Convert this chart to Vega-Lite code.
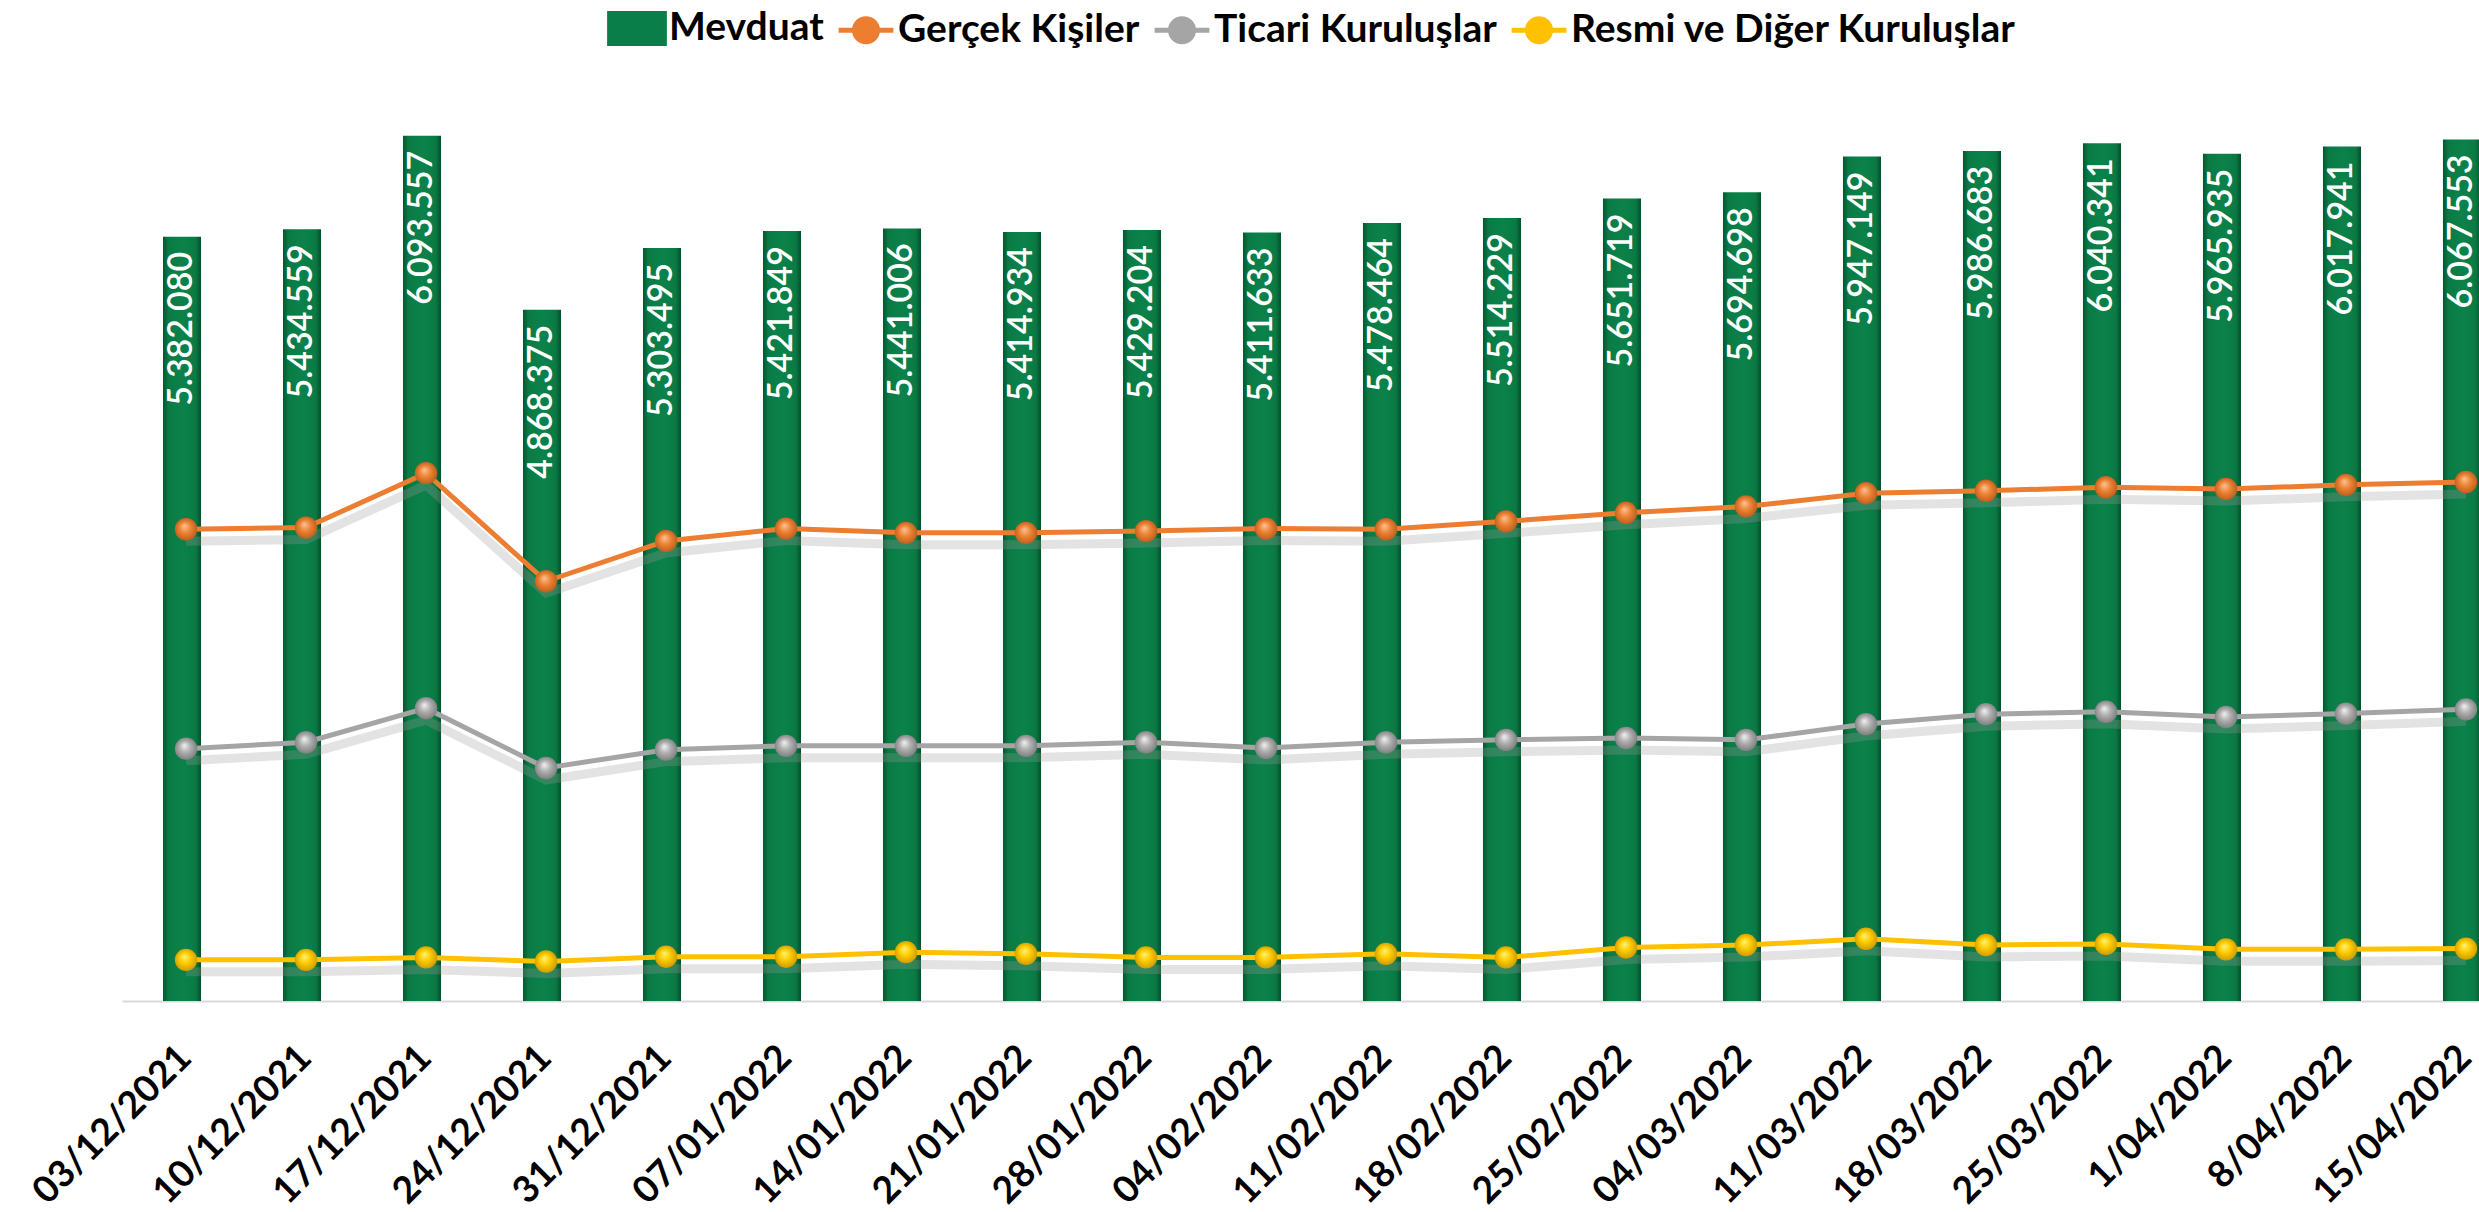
{
  "$schema": "https://vega.github.io/schema/vega-lite/v6.json",
  "width": 2357,
  "height": 923,
  "autosize": {"type": "none"},
  "padding": {"left": 122, "top": 78, "right": 0, "bottom": 211},
  "background": "white",
  "config": {
    "view": {"stroke": null},
    "locale": {"number": {"decimal": ",", "thousands": ".", "grouping": [3], "currency": ["", " TL"]}},
    "font": "Lato"
  },
  "datasets": {
    "mevduat": [
      {"tarih": "03/12/2021", "mevduat": 5382080},
      {"tarih": "10/12/2021", "mevduat": 5434559},
      {"tarih": "17/12/2021", "mevduat": 6093557},
      {"tarih": "24/12/2021", "mevduat": 4868375},
      {"tarih": "31/12/2021", "mevduat": 5303495},
      {"tarih": "07/01/2022", "mevduat": 5421849},
      {"tarih": "14/01/2022", "mevduat": 5441006},
      {"tarih": "21/01/2022", "mevduat": 5414934},
      {"tarih": "28/01/2022", "mevduat": 5429204},
      {"tarih": "04/02/2022", "mevduat": 5411633},
      {"tarih": "11/02/2022", "mevduat": 5478464},
      {"tarih": "18/02/2022", "mevduat": 5514229},
      {"tarih": "25/02/2022", "mevduat": 5651719},
      {"tarih": "04/03/2022", "mevduat": 5694698},
      {"tarih": "11/03/2022", "mevduat": 5947149},
      {"tarih": "18/03/2022", "mevduat": 5986683},
      {"tarih": "25/03/2022", "mevduat": 6040341},
      {"tarih": "1/04/2022", "mevduat": 5965935},
      {"tarih": "8/04/2022", "mevduat": 6017941},
      {"tarih": "15/04/2022", "mevduat": 6067553}
    ],
    "kalemler": [
      {"tarih": "03/12/2021", "seri": "Gerçek Kişiler", "deger": 3322000},
      {"tarih": "10/12/2021", "seri": "Gerçek Kişiler", "deger": 3334000},
      {"tarih": "17/12/2021", "seri": "Gerçek Kişiler", "deger": 3717000},
      {"tarih": "24/12/2021", "seri": "Gerçek Kişiler", "deger": 2956000},
      {"tarih": "31/12/2021", "seri": "Gerçek Kişiler", "deger": 3240000},
      {"tarih": "07/01/2022", "seri": "Gerçek Kişiler", "deger": 3327000},
      {"tarih": "14/01/2022", "seri": "Gerçek Kişiler", "deger": 3297000},
      {"tarih": "21/01/2022", "seri": "Gerçek Kişiler", "deger": 3297000},
      {"tarih": "28/01/2022", "seri": "Gerçek Kişiler", "deger": 3309000},
      {"tarih": "04/02/2022", "seri": "Gerçek Kişiler", "deger": 3327000},
      {"tarih": "11/02/2022", "seri": "Gerçek Kişiler", "deger": 3322000},
      {"tarih": "18/02/2022", "seri": "Gerçek Kişiler", "deger": 3378000},
      {"tarih": "25/02/2022", "seri": "Gerçek Kişiler", "deger": 3438000},
      {"tarih": "04/03/2022", "seri": "Gerçek Kişiler", "deger": 3483000},
      {"tarih": "11/03/2022", "seri": "Gerçek Kişiler", "deger": 3576000},
      {"tarih": "18/03/2022", "seri": "Gerçek Kişiler", "deger": 3593000},
      {"tarih": "25/03/2022", "seri": "Gerçek Kişiler", "deger": 3618000},
      {"tarih": "1/04/2022", "seri": "Gerçek Kişiler", "deger": 3606000},
      {"tarih": "8/04/2022", "seri": "Gerçek Kişiler", "deger": 3635000},
      {"tarih": "15/04/2022", "seri": "Gerçek Kişiler", "deger": 3655000},
      {"tarih": "03/12/2021", "seri": "Ticari Kuruluşlar", "deger": 1777000},
      {"tarih": "10/12/2021", "seri": "Ticari Kuruluşlar", "deger": 1822000},
      {"tarih": "17/12/2021", "seri": "Ticari Kuruluşlar", "deger": 2062000},
      {"tarih": "24/12/2021", "seri": "Ticari Kuruluşlar", "deger": 1641000},
      {"tarih": "31/12/2021", "seri": "Ticari Kuruluşlar", "deger": 1770000},
      {"tarih": "07/01/2022", "seri": "Ticari Kuruluşlar", "deger": 1797000},
      {"tarih": "14/01/2022", "seri": "Ticari Kuruluşlar", "deger": 1797000},
      {"tarih": "21/01/2022", "seri": "Ticari Kuruluşlar", "deger": 1797000},
      {"tarih": "28/01/2022", "seri": "Ticari Kuruluşlar", "deger": 1822000},
      {"tarih": "04/02/2022", "seri": "Ticari Kuruluşlar", "deger": 1782000},
      {"tarih": "11/02/2022", "seri": "Ticari Kuruluşlar", "deger": 1822000},
      {"tarih": "18/02/2022", "seri": "Ticari Kuruluşlar", "deger": 1839000},
      {"tarih": "25/02/2022", "seri": "Ticari Kuruluşlar", "deger": 1852000},
      {"tarih": "04/03/2022", "seri": "Ticari Kuruluşlar", "deger": 1839000},
      {"tarih": "11/03/2022", "seri": "Ticari Kuruluşlar", "deger": 1950000},
      {"tarih": "18/03/2022", "seri": "Ticari Kuruluşlar", "deger": 2020000},
      {"tarih": "25/03/2022", "seri": "Ticari Kuruluşlar", "deger": 2037000},
      {"tarih": "1/04/2022", "seri": "Ticari Kuruluşlar", "deger": 2000000},
      {"tarih": "8/04/2022", "seri": "Ticari Kuruluşlar", "deger": 2024000},
      {"tarih": "15/04/2022", "seri": "Ticari Kuruluşlar", "deger": 2054000},
      {"tarih": "03/12/2021", "seri": "Resmi ve Diğer Kuruluşlar", "deger": 290000},
      {"tarih": "10/12/2021", "seri": "Resmi ve Diğer Kuruluşlar", "deger": 290000},
      {"tarih": "17/12/2021", "seri": "Resmi ve Diğer Kuruluşlar", "deger": 307000},
      {"tarih": "24/12/2021", "seri": "Resmi ve Diğer Kuruluşlar", "deger": 278000},
      {"tarih": "31/12/2021", "seri": "Resmi ve Diğer Kuruluşlar", "deger": 312000},
      {"tarih": "07/01/2022", "seri": "Resmi ve Diğer Kuruluşlar", "deger": 312000},
      {"tarih": "14/01/2022", "seri": "Resmi ve Diğer Kuruluşlar", "deger": 344000},
      {"tarih": "21/01/2022", "seri": "Resmi ve Diğer Kuruluşlar", "deger": 332000},
      {"tarih": "28/01/2022", "seri": "Resmi ve Diğer Kuruluşlar", "deger": 307000},
      {"tarih": "04/02/2022", "seri": "Resmi ve Diğer Kuruluşlar", "deger": 307000},
      {"tarih": "11/02/2022", "seri": "Resmi ve Diğer Kuruluşlar", "deger": 332000},
      {"tarih": "18/02/2022", "seri": "Resmi ve Diğer Kuruluşlar", "deger": 307000},
      {"tarih": "25/02/2022", "seri": "Resmi ve Diğer Kuruluşlar", "deger": 377000},
      {"tarih": "04/03/2022", "seri": "Resmi ve Diğer Kuruluşlar", "deger": 394000},
      {"tarih": "11/03/2022", "seri": "Resmi ve Diğer Kuruluşlar", "deger": 438000},
      {"tarih": "18/03/2022", "seri": "Resmi ve Diğer Kuruluşlar", "deger": 394000},
      {"tarih": "25/03/2022", "seri": "Resmi ve Diğer Kuruluşlar", "deger": 402000},
      {"tarih": "1/04/2022", "seri": "Resmi ve Diğer Kuruluşlar", "deger": 364000},
      {"tarih": "8/04/2022", "seri": "Resmi ve Diğer Kuruluşlar", "deger": 364000},
      {"tarih": "15/04/2022", "seri": "Resmi ve Diğer Kuruluşlar", "deger": 369000}
    ]
  },
  "encoding": {
    "x": {
      "field": "tarih",
      "type": "nominal",
      "sort": null,
      "scale": {"type": "band", "range": [0, 2400], "paddingInner": 0.683, "paddingOuter": 0.3417},
      "axis": {
        "title": null,
        "labelAngle": -45,
        "labelFont": "Lato",
        "labelFontWeight": "bold",
        "labelFontSize": 37,
        "labelColor": "#000000",
        "labelPadding": 38,
        "labelOffset": -9,
        "labelLimit": 0,
        "ticks": false,
        "domainColor": "#D9D9D9",
        "domainWidth": 2,
        "labelOverlap": false
      }
    }
  },
  "layer": [
    {
      "data": {"name": "mevduat"},
      "mark": {
        "type": "bar",
        "fill": {
          "gradient": "linear", "x1": 0, "x2": 1, "y1": 0, "y2": 0,
          "stops": [
            {"offset": 0, "color": "#06552F"},
            {"offset": 0.14, "color": "#0A7A45"},
            {"offset": 0.5, "color": "#0B824A"},
            {"offset": 0.86, "color": "#0A7A45"},
            {"offset": 1, "color": "#054F2B"}
          ]
        }
      },
      "encoding": {
        "y": {"field": "mevduat", "type": "quantitative", "scale": {"domain": [0, 6500000], "nice": false, "zero": true}, "axis": null}
      }
    },
    {
      "data": {"name": "mevduat"},
      "mark": {"type": "text", "angle": -90, "align": "right", "baseline": "middle", "dx": -15, "color": "#FFFFFF", "font": "Lato", "fontSize": 34, "fontWeight": 600},
      "encoding": {
        "y": {"field": "mevduat", "type": "quantitative"},
        "text": {"field": "mevduat", "type": "quantitative", "format": ",d"}
      }
    },
    {
      "data": {"name": "kalemler"},
      "mark": {"type": "line", "stroke": "#9A9A9A", "strokeWidth": 9, "opacity": 0.28, "yOffset": 12, "xOffset": 4},
      "encoding": {
        "y": {"field": "deger", "type": "quantitative"},
        "detail": {"field": "seri"}
      }
    },
    {
      "data": {"name": "kalemler"},
      "mark": {"type": "line", "strokeWidth": 5, "xOffset": 4},
      "encoding": {
        "y": {"field": "deger", "type": "quantitative"},
        "color": {
          "field": "seri",
          "type": "nominal",
          "scale": {
            "domain": ["Mevduat", "Gerçek Kişiler", "Ticari Kuruluşlar", "Resmi ve Diğer Kuruluşlar"],
            "range": ["#0A7E48", "#ED7D31", "#A5A5A5", "#FFC000"]
          },
          "legend": {
            "title": null,
            "orient": "none",
            "legendX": 485,
            "legendY": -80,
            "direction": "horizontal",
            "labelFont": "Lato",
            "labelFontWeight": "bold",
            "labelFontSize": 39,
            "labelColor": "#000000",
            "labelLimit": 0,
            "labelOffset": 2,
            "columnPadding": 4,
            "symbolSize": 3000,
            "symbolStrokeWidth": 5,
            "encode": {
              "symbols": {
                "update": {
                  "shape": {"signal": "datum.value === 'Mevduat' ? 'M-1,-0.55H1V0.55H-1Z' : 'M-1,0H1M0.42,0A0.42,0.42,0,1,1,-0.42,0A0.42,0.42,0,1,1,0.42,0'"},
                  "fill": {"scale": "color", "field": "value"},
                  "stroke": {"scale": "color", "field": "value"},
                  "strokeWidth": {"value": 5},
                  "opacity": {"value": 1}
                }
              }
            }
          }
        }
      }
    },
    {
      "data": {"name": "kalemler"},
      "transform": [{"filter": "datum.seri === 'Gerçek Kişiler'"}],
      "mark": {
        "type": "point", "filled": true, "size": 500, "opacity": 1, "xOffset": 4,
        "fill": {"gradient": "radial", "x1": 0.42, "y1": 0.35, "r1": 0, "x2": 0.5, "y2": 0.5, "r2": 0.55,
          "stops": [{"offset": 0, "color": "#FBC49A"}, {"offset": 0.45, "color": "#EE8436"}, {"offset": 1, "color": "#B85A1A"}]}
      },
      "encoding": {"y": {"field": "deger", "type": "quantitative"}}
    },
    {
      "data": {"name": "kalemler"},
      "transform": [{"filter": "datum.seri === 'Ticari Kuruluşlar'"}],
      "mark": {
        "type": "point", "filled": true, "size": 500, "opacity": 1, "xOffset": 4,
        "fill": {"gradient": "radial", "x1": 0.42, "y1": 0.35, "r1": 0, "x2": 0.5, "y2": 0.5, "r2": 0.55,
          "stops": [{"offset": 0, "color": "#F2F2F2"}, {"offset": 0.45, "color": "#B0B0B0"}, {"offset": 1, "color": "#7A7A7A"}]}
      },
      "encoding": {"y": {"field": "deger", "type": "quantitative"}}
    },
    {
      "data": {"name": "kalemler"},
      "transform": [{"filter": "datum.seri === 'Resmi ve Diğer Kuruluşlar'"}],
      "mark": {
        "type": "point", "filled": true, "size": 500, "opacity": 1, "xOffset": 4,
        "fill": {"gradient": "radial", "x1": 0.42, "y1": 0.35, "r1": 0, "x2": 0.5, "y2": 0.5, "r2": 0.55,
          "stops": [{"offset": 0, "color": "#FFF27A"}, {"offset": 0.45, "color": "#FFCC00"}, {"offset": 1, "color": "#C99600"}]}
      },
      "encoding": {"y": {"field": "deger", "type": "quantitative"}}
    }
  ]
}
